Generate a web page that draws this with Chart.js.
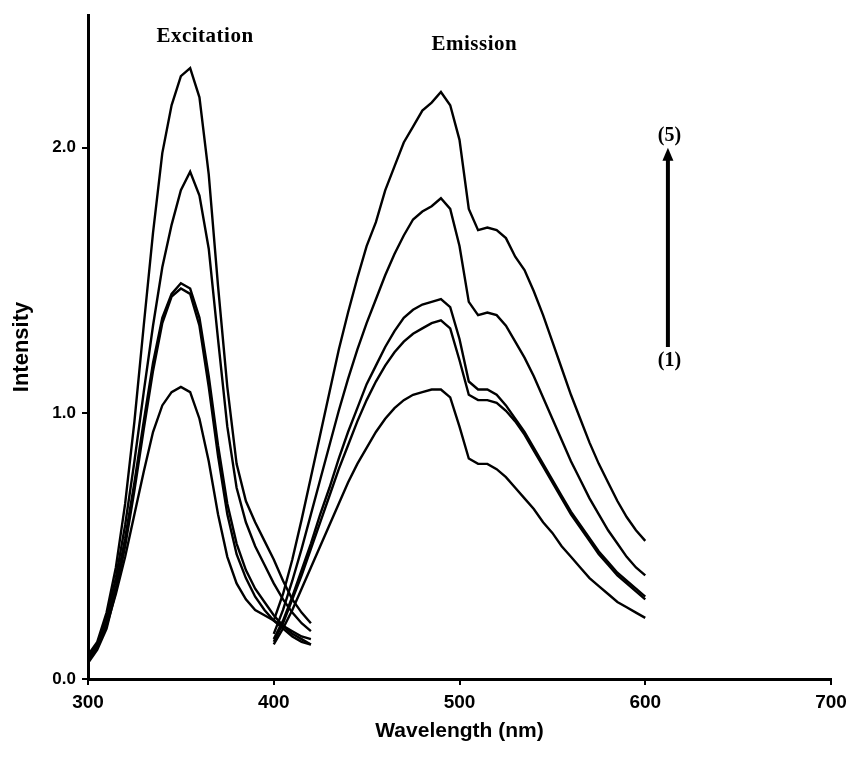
<!DOCTYPE html>
<html>
<head>
<meta charset="utf-8">
<script src="https://cdn.jsdelivr.net/npm/chart.js@4/dist/chart.umd.min.js"></script>
<style>
html,body{margin:0;padding:0;background:#fff;}
#wrap{width:847px;height:759px;position:relative;}
</style>
</head>
<body>
<div id="wrap"><canvas id="c"></canvas></div>
<script>
// ---- Data ----
const excitationWavelengths = [300,305,310,315,320,325,330,335,340,345,350,355,360,365,370,375,380,385,390,395,400,405,410,415,420];
const excitation1 = [0.08,0.12,0.20,0.32,0.46,0.62,0.78,0.93,1.03,1.08,1.10,1.08,0.98,0.82,0.62,0.46,0.36,0.30,0.26,0.24,0.22,0.20,0.18,0.16,0.15];
const excitation2 = [0.06,0.11,0.19,0.33,0.50,0.71,0.94,1.16,1.34,1.44,1.47,1.45,1.33,1.10,0.84,0.62,0.47,0.38,0.31,0.26,0.22,0.19,0.16,0.14,0.13];
const excitation3 = [0.07,0.12,0.21,0.35,0.53,0.74,0.97,1.19,1.36,1.45,1.49,1.47,1.36,1.14,0.88,0.66,0.51,0.41,0.34,0.29,0.24,0.20,0.17,0.15,0.13];
const excitation4 = [0.08,0.13,0.23,0.38,0.58,0.82,1.08,1.33,1.55,1.71,1.84,1.91,1.82,1.62,1.28,0.95,0.72,0.59,0.50,0.43,0.36,0.30,0.25,0.21,0.18];
const excitation5 = [0.09,0.14,0.25,0.42,0.66,0.97,1.33,1.68,1.98,2.16,2.27,2.30,2.19,1.90,1.48,1.10,0.81,0.67,0.59,0.52,0.45,0.37,0.30,0.25,0.21];

const emissionWavelengths = [400,405,410,415,420,425,430,435,440,445,450,455,460,465,470,475,480,485,490,495,500,505,510,515,520,525,530,535,540,545,550,555,560,565,570,575,580,585,590,595,600];
const emission1 = [0.13,0.19,0.26,0.34,0.42,0.50,0.58,0.66,0.74,0.81,0.87,0.93,0.98,1.02,1.05,1.07,1.08,1.09,1.09,1.06,0.95,0.83,0.81,0.81,0.79,0.76,0.72,0.68,0.64,0.59,0.55,0.50,0.46,0.42,0.38,0.35,0.32,0.29,0.27,0.25,0.23];
const emission2 = [0.14,0.21,0.30,0.39,0.49,0.59,0.69,0.79,0.88,0.97,1.05,1.12,1.18,1.23,1.27,1.30,1.32,1.34,1.35,1.32,1.20,1.07,1.05,1.05,1.04,1.01,0.97,0.92,0.86,0.80,0.74,0.68,0.62,0.57,0.52,0.47,0.43,0.39,0.36,0.33,0.30];
const emission3 = [0.15,0.22,0.31,0.41,0.51,0.62,0.72,0.83,0.93,1.02,1.11,1.18,1.25,1.31,1.36,1.39,1.41,1.42,1.43,1.40,1.28,1.12,1.09,1.09,1.07,1.03,0.98,0.93,0.87,0.81,0.75,0.69,0.63,0.58,0.53,0.48,0.44,0.40,0.37,0.34,0.31];
const emission4 = [0.17,0.26,0.37,0.49,0.62,0.75,0.88,1.01,1.13,1.24,1.34,1.43,1.52,1.60,1.67,1.73,1.76,1.78,1.81,1.77,1.63,1.42,1.37,1.38,1.37,1.33,1.27,1.21,1.14,1.06,0.98,0.90,0.82,0.75,0.68,0.62,0.56,0.51,0.46,0.42,0.39];
const emission5 = [0.22,0.32,0.45,0.60,0.76,0.92,1.08,1.24,1.38,1.51,1.63,1.72,1.84,1.93,2.02,2.08,2.14,2.17,2.21,2.16,2.03,1.77,1.69,1.70,1.69,1.66,1.59,1.54,1.46,1.37,1.27,1.17,1.07,0.98,0.89,0.81,0.74,0.67,0.61,0.56,0.52];

const xTicks = [300,400,500,600,700];
const yTicks = [0,1,2];
const xTitle = 'Wavelength (nm)';
const yTitle = 'Intensity';

// annotation anchors in data units
const labelExcitation = {text:'Excitation', x:363, y:2.40};
const labelEmission = {text:'Emission', x:508, y:2.37};
const labelTop = {text:'(5)', x:613, y:2.025};
const labelBottom = {text:'(1)', x:613, y:1.18};
const arrow = {x:612.2, yFrom:1.25, yTo:2.0};

function pts(xs, ys){ return xs.map((x,i)=>({x:x, y:ys[i]})); }

const series = [
  pts(excitationWavelengths, excitation1),
  pts(excitationWavelengths, excitation2),
  pts(excitationWavelengths, excitation3),
  pts(excitationWavelengths, excitation4),
  pts(excitationWavelengths, excitation5),
  pts(emissionWavelengths, emission1),
  pts(emissionWavelengths, emission2),
  pts(emissionWavelengths, emission3),
  pts(emissionWavelengths, emission4),
  pts(emissionWavelengths, emission5)
];

const datasets = series.map(d=>({
  data:d, showLine:true, borderColor:'#000', borderWidth:2.4, pointRadius:0,
  tension:0, fill:false
}));

const annotations = {
  id:'annot',
  afterDatasetsDraw(chart){
    const ctx = chart.ctx, xs = chart.scales.x, ys = chart.scales.y;
    ctx.save();
    ctx.fillStyle = '#000';
    ctx.textAlign = 'center';
    ctx.textBaseline = 'alphabetic';
    try { ctx.letterSpacing = '0.5px'; } catch(e) {}
    ctx.font = "bold 21px 'Liberation Serif', 'Times New Roman', serif";
    [labelExcitation, labelEmission].forEach(l=>{
      ctx.fillText(l.text, xs.getPixelForValue(l.x), ys.getPixelForValue(l.y));
    });
    try { ctx.letterSpacing = '0px'; } catch(e) {}
    ctx.font = "bold 20px 'Liberation Serif', 'Times New Roman', serif";
    [labelTop, labelBottom].forEach(l=>{
      ctx.fillText(l.text, xs.getPixelForValue(l.x), ys.getPixelForValue(l.y));
    });
    // arrow
    const ax = xs.getPixelForValue(arrow.x);
    const y0 = ys.getPixelForValue(arrow.yFrom);
    const y1 = ys.getPixelForValue(arrow.yTo);
    ctx.strokeStyle = '#000';
    ctx.lineWidth = 4;
    ctx.beginPath();
    ctx.moveTo(ax, y0);
    ctx.lineTo(ax, y1 + 10);
    ctx.stroke();
    ctx.beginPath();
    ctx.moveTo(ax, y1);
    ctx.lineTo(ax - 5.5, y1 + 13);
    ctx.lineTo(ax + 5.5, y1 + 13);
    ctx.closePath();
    ctx.fill();
    ctx.restore();
  }
};

new Chart(document.getElementById('c'), {
  type:'scatter',
  data:{datasets},
  options:{
    responsive:true, maintainAspectRatio:false, animation:false, devicePixelRatio:1,
    layout:{padding:{left:0, right:16, top:15, bottom:0}},
    plugins:{legend:{display:false}, tooltip:{enabled:false}},
    scales:{
      x:{
        type:'linear', min:300, max:700,
        afterBuildTicks(s){ s.ticks = xTicks.map(v=>({value:v})); },
        afterFit(s){ s.height = 80; s.paddingRight = 0; s.paddingLeft = 0; },
        border:{display:true, color:'#000', width:3},
        grid:{display:true, drawOnChartArea:false, drawTicks:true, tickLength:6, color:'#000', lineWidth:2},
        ticks:{color:'#000', padding:6, maxRotation:0,
          font:{family:"'Liberation Sans', Arial, sans-serif", size:19, weight:'bold'}},
        title:{display:true, text:xTitle, color:'#000', padding:{top:0, bottom:15},
          font:{family:"'Liberation Sans', Arial, sans-serif", size:21, weight:'bold'}}
      },
      y:{
        type:'linear', min:0, max:2.5,
        afterBuildTicks(s){ s.ticks = yTicks.map(v=>({value:v})); },
        afterFit(s){ s.width = 88; s.paddingTop = 0; s.paddingBottom = 0; },
        border:{display:true, color:'#000', width:3},
        grid:{display:true, drawOnChartArea:false, drawTicks:true, tickLength:6, color:'#000', lineWidth:2},
        ticks:{color:'#000', padding:6, callback:v=>Number(v).toFixed(1),
          font:{family:"'Liberation Sans', Arial, sans-serif", size:17, weight:'bold'}},
        title:{display:true, text:yTitle, color:'#000', padding:{top:9, bottom:0},
          font:{family:"'Liberation Sans', Arial, sans-serif", size:22, weight:'bold'}}
      }
    }
  },
  plugins:[annotations]
});
</script>
</body>
</html>
